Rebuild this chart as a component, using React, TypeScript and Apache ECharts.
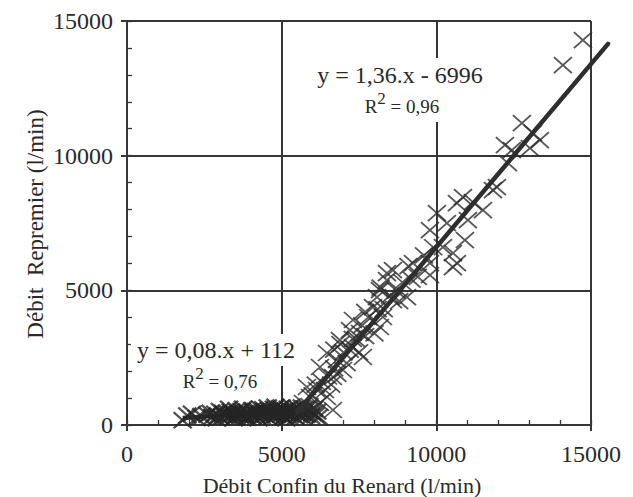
import React, { useEffect, useRef } from 'react';
import * as echarts from 'echarts';

// Axis tick values (labels derive from these)
const axisMin = 0;
const axisMax = 15000;
const axisStep = 5000;

// Low-flow regime (Débit Confin < ~6000 l/min)
const lowCluster: [number, number][] = [
  [1800, 180], [1950, 350], [2100, 420], [2250, 260], [2400, 330], [2600, 380],
  [2700, 450], [2750, 300], [2850, 420], [2900, 250], [2950, 350], [3000, 520],
  [3050, 280], [3100, 450], [3150, 330], [3200, 380], [3250, 450], [3300, 320],
  [3300, 600], [3350, 500], [3400, 440], [3450, 400], [3450, 250], [3500, 300],
  [3550, 380], [3550, 550], [3600, 460], [3650, 360], [3700, 520], [3750, 350],
  [3750, 600], [3800, 410], [3850, 300], [3900, 480], [3900, 280], [3950, 420],
  [4000, 380], [4050, 550], [4050, 320], [4100, 450], [4150, 520], [4150, 380],
  [4200, 340], [4250, 500], [4250, 250], [4300, 420], [4300, 600], [4350, 330],
  [4400, 580], [4450, 380], [4450, 520], [4500, 480], [4550, 300], [4550, 650],
  [4600, 540], [4650, 400], [4700, 430], [4700, 300], [4750, 600], [4800, 360],
  [4800, 680], [4850, 500], [4850, 380], [4900, 450], [4950, 620], [5000, 400],
  [5000, 650], [5050, 540], [5050, 300], [5100, 330], [5150, 480], [5150, 250],
  [5200, 600], [5250, 420], [5250, 300], [5300, 520], [5300, 680], [5350, 370],
  [5400, 580], [5450, 460], [5450, 300], [5500, 640], [5550, 400], [5600, 520],
  [5650, 350], [5650, 650], [5700, 450], [5750, 600], [5800, 380], [5850, 600],
  [5900, 520], [5950, 330], [6000, 450], [6050, 600], [6100, 350], [6150, 500],
  [6200, 300]
];

// High-flow regime (rising part)
const highCluster: [number, number][] = [
  [5689, 817], [5915, 1039], [6238, 817], [6464, 1039], [6141, 1299], [5818, 1411],
  [6658, 557], [6658, 1782], [6981, 2042], [6238, 2153], [6787, 2413], [6464, 2673],
  [7628, 2524], [7305, 2895], [6884, 3155], [7531, 3415], [7208, 3526], [7305, 3898],
  [8177, 3638], [8274, 4009], [7951, 4380], [9050, 4751], [8597, 4640], [8080, 4751],
  [8177, 5011], [8403, 5382], [9244, 6013], [8403, 5642], [8597, 5754], [9793, 5568],
  [9793, 6013], [10537, 5865], [10666, 6013], [10537, 6385], [10213, 6607], [10924, 6867],
  [9793, 7238], [10342, 7498], [11021, 7610], [10019, 7869], [11183, 8278], [11506, 7981],
  [10666, 8241], [10860, 8463], [11958, 8835], [11829, 8723], [12314, 9725], [12443, 10208],
  [12217, 10394], [13025, 10282], [13348, 10579], [13122, 10840], [12766, 11210],
  [15061, 11878], [14091, 13363], [14738, 14291],
  [6100, 1500], [6400, 1300], [6500, 1800], [6700, 2100], [6900, 3000], [7000, 2700],
  [7100, 2300], [7400, 3200], [7700, 3300], [7800, 4000], [8300, 4300], [8700, 5000],
  [8900, 5300], [9200, 5400],
  [5700, 600], [5900, 700], [6000, 1100], [6300, 1600], [6600, 1500], [6800, 1900],
  [6700, 2800], [7200, 2800], [7500, 2700], [7300, 3200], [7600, 3700], [8000, 3400],
  [7700, 4200], [8100, 4300], [8500, 4800], [8200, 5100], [8800, 4600], [9400, 5500],
  [9100, 5900], [9600, 6300], [9900, 6600]
];

// Regression line end points
const fitHigh: [number, number][] = [[5500, 484], [15550, 14152]];
const fitLow: [number, number][] = [[1800, 256], [5500, 552]];

const INK = '#363636';
const TXT = '#2a2a2a';
const SERIF = '"Liberation Serif", "DejaVu Serif", serif';

export default function App() {
  const ref = useRef<HTMLDivElement>(null);
  useEffect(() => {
    if (!ref.current) return;
    const chart = echarts.init(ref.current, undefined, { renderer: 'svg' });
    const mainAxis = {
      type: 'value' as const,
      min: axisMin,
      max: axisMax,
      interval: axisStep,
      axisLine: { show: true, lineStyle: { color: INK, width: 2 } },
      axisTick: { show: true, inside: true, length: 5, lineStyle: { color: INK, width: 1.3 } },
      minorTick: { show: true, splitNumber: 5, length: 5, lineStyle: { color: INK, width: 1.3 } },
      splitLine: { show: true, lineStyle: { color: INK, width: 2 } },
      axisLabel: { color: TXT, fontSize: 24, fontFamily: SERIF, formatter: (v: number) => String(v) }
    };
    const outerTickAxis = {
      type: 'value' as const,
      min: axisMin,
      max: axisMax,
      interval: axisStep,
      axisLine: { show: false },
      axisTick: { show: true, inside: false, length: 6, lineStyle: { color: INK, width: 2 } },
      splitLine: { show: false },
      axisLabel: { show: false }
    };
    const cross = 'path://M0,0L10,10M10,0L0,10';
    chart.setOption({
      animation: false,
      backgroundColor: '#ffffff',
      grid: { left: 127, right: 42, top: 21, bottom: 72, containLabel: false },
      xAxis: [
        { ...mainAxis, position: 'bottom', axisLabel: { ...mainAxis.axisLabel, margin: 17 } },
        { ...outerTickAxis, position: 'bottom' }
      ],
      yAxis: [
        { ...mainAxis, position: 'left', axisLabel: { ...mainAxis.axisLabel, margin: 14 } },
        { ...outerTickAxis, position: 'left' }
      ],
      series: [
        {
          type: 'scatter', data: lowCluster, symbol: cross, symbolSize: [18, 16],
          itemStyle: { color: 'transparent', borderColor: '#262626', borderWidth: 2.3 }, z: 3
        },
        {
          type: 'scatter', data: highCluster, symbol: cross, symbolSize: [18, 16],
          itemStyle: { color: 'transparent', borderColor: '#2e2e2e', borderWidth: 1.8 }, z: 3
        },
        {
          type: 'line', data: fitLow, showSymbol: false,
          lineStyle: { color: '#2e2e2e', width: 4.5 }, z: 2
        }
      ],
      graphic: [
        {
          id: 'eq1', type: 'text', z: 100,
          style: {
            text: 'y = 1,36.x - 6996', x: 400, y: 75, align: 'center', verticalAlign: 'middle',
            fontSize: 24, fontFamily: SERIF, fill: TXT, backgroundColor: '#fff', padding: [6, 6, 4, 6]
          }
        },
        {
          id: 'r1', type: 'text', z: 100,
          style: {
            text: '{r|R}{s|2}{r| = 0,96}', x: 402, y: 105, align: 'center', verticalAlign: 'middle',
            fill: TXT, backgroundColor: '#fff', padding: [2, 6, 6, 6],
            rich: {
              r: { fontSize: 19, fontFamily: SERIF, fill: TXT, lineHeight: 26, verticalAlign: 'bottom' },
              s: { fontSize: 17, fontFamily: SERIF, fill: TXT, lineHeight: 17, verticalAlign: 'top' }
            }
          }
        },
        {
          id: 'eq2', type: 'text', z: 100,
          style: {
            text: 'y = 0,08.x + 112', x: 216, y: 350, align: 'center', verticalAlign: 'middle',
            fontSize: 24, fontFamily: SERIF, fill: TXT, backgroundColor: '#fff', padding: [4, 6, 4, 6]
          }
        },
        {
          id: 'r2', type: 'text', z: 100,
          style: {
            text: '{r|R}{s|2}{r| = 0,76}', x: 220, y: 378, align: 'center', verticalAlign: 'middle',
            fill: TXT,
            rich: {
              r: { fontSize: 19, fontFamily: SERIF, fill: TXT, lineHeight: 26, verticalAlign: 'bottom' },
              s: { fontSize: 17, fontFamily: SERIF, fill: TXT, lineHeight: 17, verticalAlign: 'top' }
            }
          }
        },
        {
          id: 'xname', type: 'text', z: 100,
          style: {
            text: 'Débit Confin du Renard (l/min)', x: 342, y: 485, align: 'center', verticalAlign: 'middle',
            fontSize: 22, fontFamily: SERIF, fill: TXT
          }
        },
        {
          id: 'yname', type: 'text', z: 100, x: 35, y: 224, rotation: Math.PI / 2,
          style: {
            text: 'Débit  Repremier (l/min)', x: 0, y: 0, align: 'center', verticalAlign: 'middle',
            fontSize: 23, fontFamily: SERIF, fill: TXT
          }
        }
      ]
    });
    // High-regime regression line: endpoints mapped through the chart's own scales
    const p0 = chart.convertToPixel({ seriesIndex: 1 }, fitHigh[0]) as number[];
    const p1 = chart.convertToPixel({ seriesIndex: 1 }, fitHigh[1]) as number[];
    chart.setOption({
      graphic: [
        {
          id: 'fitHigh', type: 'line', z: 50,
          shape: { x1: p0[0], y1: p0[1], x2: p1[0], y2: p1[1] },
          style: { stroke: '#2e2e2e', lineWidth: 4.5, lineCap: 'round' }
        }
      ]
    });
    return () => chart.dispose();
  }, []);
  return (
    <div
      ref={ref}
      style={{ position: 'fixed', left: 0, top: 0, width: 633, height: 497, background: '#fff' }}
    />
  );
}
